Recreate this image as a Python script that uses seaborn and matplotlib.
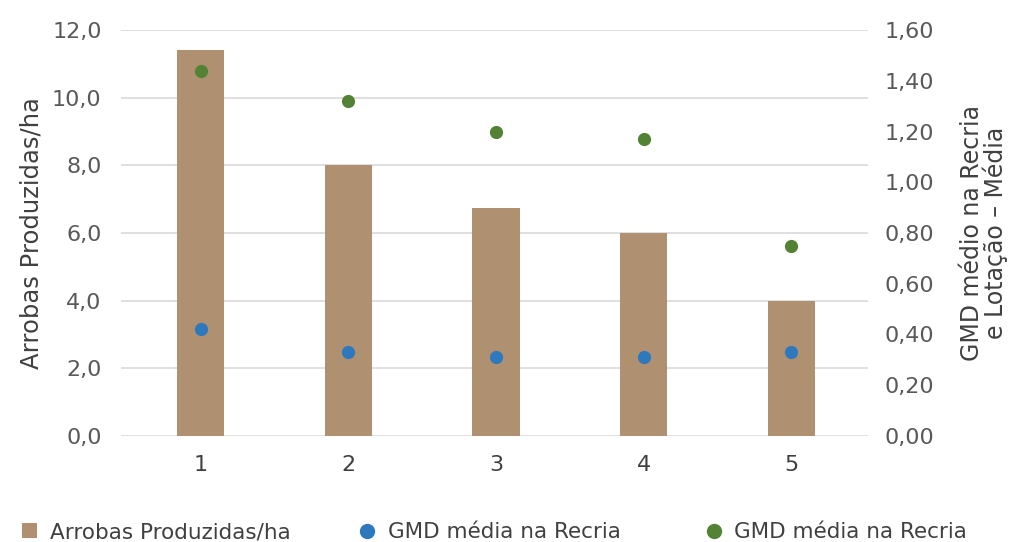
import numpy as np
import pandas as pd
import matplotlib
matplotlib.use('Agg')
import matplotlib.pyplot as plt
from matplotlib.ticker import FuncFormatter
from matplotlib.lines import Line2D
from matplotlib.patches import Patch
import seaborn as sns

# dados
categorias = ['1', '2', '3', '4', '5']
arrobas_ha = [11.4, 8.0, 6.75, 6.0, 4.0]
gmd_azul = [0.42, 0.33, 0.31, 0.31, 0.33]
gmd_verde = [1.44, 1.32, 1.20, 1.17, 0.75]

cor_barra = '#AF9171'
cor_azul = '#2E78BE'
cor_verde = '#548235'
cor_texto = '#595959'

sns.set_theme(style='white')
plt.rcParams['font.family'] = ['DejaVu Sans']

df = pd.DataFrame({'cat': categorias, 'arrobas': arrobas_ha,
                   'azul': gmd_azul, 'verde': gmd_verde})

fig = plt.figure(figsize=(10.13, 5.42), dpi=100)
ax = fig.add_axes([0.1195, 0.1956, 0.7375, 0.749])

sns.barplot(data=df, x='cat', y='arrobas', order=categorias, color=cor_barra,
            width=0.32, saturation=1, linewidth=0, edgecolor='none', ax=ax, zorder=2)
ax.set_ylim(0, 12)
ax.set_yticks(np.arange(0, 12.1, 2))
ax.yaxis.set_major_formatter(FuncFormatter(lambda v, p: f'{v:.1f}'.replace('.', ',')))
ax.grid(axis='y', color='#D9D9D9', linewidth=1.2, zorder=0)
ax.set_axisbelow(True)
ax.set_xlabel('')
ax.set_ylabel('Arrobas Produzidas/ha', fontsize=17.5, color='#404040', labelpad=6)
ax.tick_params(axis='y', length=0, pad=14, labelsize=16, labelcolor=cor_texto)
ax.tick_params(axis='x', length=0, pad=14, labelsize=16, labelcolor='#404040')
ax.set_xlim(-0.54, 4.52)

ax2 = ax.twinx()
sns.stripplot(data=df, x='cat', y='azul', order=categorias, color=cor_azul,
              jitter=False, size=9.5, ax=ax2, zorder=3)
sns.stripplot(data=df, x='cat', y='verde', order=categorias, color=cor_verde,
              jitter=False, size=9.5, ax=ax2, zorder=3)
ax2.set_ylim(0, 1.6)
ax2.set_yticks(np.arange(0, 1.61, 0.2))
ax2.yaxis.set_major_formatter(FuncFormatter(lambda v, p: f'{v:.2f}'.replace('.', ',')))
ax2.set_ylabel('GMD médio na Recria\ne Lotação – Média', fontsize=17,
               color='#404040', labelpad=18, linespacing=0.95)
ax2.tick_params(axis='y', length=0, pad=12, labelsize=16, labelcolor=cor_texto)
ax2.set_xlim(-0.54, 4.52)

for a in (ax, ax2):
    for s in a.spines.values():
        s.set_visible(False)

# legenda na base, cada item na sua posição
itens = [
    (Patch(facecolor=cor_barra, edgecolor='none'), 'Arrobas Produzidas/ha', 0.022),
    (Line2D([], [], marker='o', linestyle='none', color=cor_azul, markersize=10),
     'GMD média na Recria', 0.355),
    (Line2D([], [], marker='o', linestyle='none', color=cor_verde, markersize=10),
     'GMD média na Recria', 0.697),
]
for handle, texto, x0 in itens:
    fig.legend(handles=[handle], labels=[texto], loc='center left',
               bbox_to_anchor=(x0, 0.018), frameon=False, fontsize=15.5,
               labelcolor='#404040', handlelength=0.7, handletextpad=0.6,
               handleheight=0.7, borderpad=0, borderaxespad=0)

fig.savefig('out.png', dpi=100)
